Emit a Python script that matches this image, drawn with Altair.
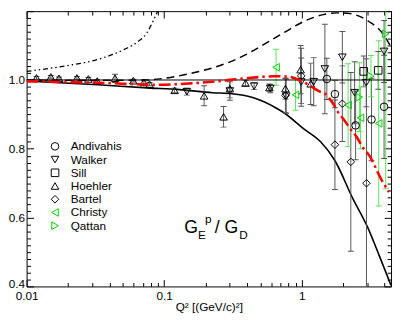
import altair as alt
import pandas as pd

# ---------------- data ----------------
series_names = ["Andivahis", "Walker", "Sill", "Hoehler", "Bartel", "Christy", "Qattan"]
series_shapes = ["circle", "triangle-down", "square", "triangle-up", "diamond", "triangle-left", "triangle-right"]
series_colors = ["black", "black", "black", "black", "black", "#00d000", "#00d000"]
bar_colors = ["#555555", "#555555", "#555555", "#555555", "#555555", "#5ce65c", "#5ce65c"]

andivahis_q = [1.52, 1.74, 2.46, 3.21, 3.96]
andivahis_v = [1.003, 0.959, 0.868, 0.885, 0.922]
andivahis_e = [0.06, 0.04, 0.10, 0.12, 0.15]

walker_q = [0.146, 0.300, 0.450, 0.590, 0.770, 0.990, 1.220, 1.470, 1.970, 2.420, 2.940, 3.960]
walker_v = [0.966, 0.968, 0.982, 0.975, 0.953, 0.994, 0.995, 1.032, 1.066, 0.963, 0.992, 1.083]
walker_e = [0.010, 0.027, 0.010, 0.012, 0.050, 0.070, 0.070, 0.130, 0.075, 0.090, 0.070, 0.090]

sill_q = [2.82, 3.59]
sill_v = [1.025, 1.028]
sill_e = [0.045, 0.055]

hoehler_q = [0.0118, 0.0150, 0.0172, 0.0232, 0.0281, 0.0326, 0.0439, 0.0596, 0.0711, 0.0783,
             0.119, 0.195, 0.270, 0.300, 0.390, 0.581, 0.760, 0.980, 1.160]
hoehler_v = [1.006, 1.009, 1.005, 1.006, 1.003, 0.997, 1.005, 0.998, 0.993, 0.988,
             0.970, 0.954, 0.893, 0.975, 0.991, 0.978, 0.975, 1.030, 0.989]
hoehler_e = [0.004, 0.004, 0.004, 0.004, 0.004, 0.004, 0.012, 0.004, 0.005, 0.005,
             0.006, 0.029, 0.030, 0.027, 0.008, 0.010, 0.030, 0.070, 0.060]

bartel_q = [0.76, 0.99, 1.74, 1.97, 2.27, 2.95]
bartel_v = [0.955, 1.012, 0.812, 0.931, 0.762, 0.700]
bartel_e = [0.05, 0.08, 0.13, 0.11, 0.26, 0.55]

christy_q = [0.65, 0.90, 2.17, 2.67, 3.62]
christy_v = [1.037, 0.957, 0.927, 0.890, 0.874]
christy_e = [0.052, 0.045, 0.12, 0.09, 0.24]

qattan_q = [2.62, 3.18, 4.07]
qattan_v = [0.950, 1.011, 1.134]
qattan_e = [0.10, 0.06, 0.45]

# curves
solid_q = [0.01, 0.0331, 0.0751, 0.1294, 0.224, 0.311, 0.433, 0.536, 0.66, 0.745, 1.033,
           1.365, 1.738, 2.344, 3.0, 3.64, 4.45]
solid_v = [0.997, 0.986, 0.977, 0.972, 0.963, 0.960, 0.950, 0.936, 0.917, 0.904, 0.858,
           0.821, 0.766, 0.656, 0.573, 0.491, 0.403]

dashed_q = [0.01, 0.03, 0.0751, 0.1041, 0.152, 0.224, 0.311, 0.433, 0.565, 0.745, 1.033,
            1.433, 1.78, 2.22, 3.07, 3.82, 4.45]
dashed_v = [1.0, 0.999, 1.0, 1.006, 1.018, 1.035, 1.055, 1.083, 1.110, 1.138, 1.170,
            1.190, 1.195, 1.193, 1.170, 1.138, 1.096]

dd_q = [0.01, 0.0192, 0.0331, 0.0513, 0.0637, 0.0751, 0.0837, 0.0899]
dd_v = [1.025, 1.041, 1.060, 1.089, 1.110, 1.138, 1.174, 1.201]

red_q = [0.01, 0.0331, 0.0929, 0.129, 0.225, 0.328, 0.511, 0.632, 0.782, 0.921, 1.121, 1.321,
         1.482, 1.69, 1.834, 1.991, 2.233, 2.545, 2.763, 3.097, 3.42, 3.71, 3.96, 4.30]
red_v = [0.996, 0.992, 0.986, 0.988, 0.995, 1.002, 1.009, 1.011, 1.010, 1.003, 0.986, 0.968,
         0.959, 0.931, 0.906, 0.888, 0.860, 0.830, 0.805, 0.780, 0.747, 0.717, 0.697, 0.674]

ref_value = [1.0]

# axis ticks / labels
x_label_values = [0.01, 0.1, 1]
x_minor_values = [0.02, 0.03, 0.04, 0.05, 0.06, 0.07, 0.08, 0.09,
                  0.2, 0.3, 0.4, 0.5, 0.6, 0.7, 0.8, 0.9, 2, 3, 4]
y_label_values = [0.4, 0.6, 0.8, 1.0]
y_major_values = [0.4, 0.6, 0.8, 1.0, 1.2]
y_minor_values = [round(0.4 + 0.02 * i, 2) for i in range(41) if i % 10 != 0]

x_title = "Q² [(GeV/c)²]"
formula_text = ["G", "E", "p", "/ G", "D"]

# ---------------- build tables ----------------
all_q = [andivahis_q, walker_q, sill_q, hoehler_q, bartel_q, christy_q, qattan_q]
all_v = [andivahis_v, walker_v, sill_v, hoehler_v, bartel_v, christy_v, qattan_v]
all_e = [andivahis_e, walker_e, sill_e, hoehler_e, bartel_e, christy_e, qattan_e]
rows = []
for name, qs, vs, es, bc in zip(series_names, all_q, all_v, all_e, bar_colors):
    for q, v, e in zip(qs, vs, es):
        rows.append({"series": name, "q": q, "v": v, "lo": v - e, "hi": v + e, "ecolor": bc})
pts = pd.DataFrame(rows)
caps = pd.concat([
    pts[["q", "lo", "ecolor"]].rename(columns={"lo": "c"}),
    pts[["q", "hi", "ecolor"]].rename(columns={"hi": "c"}),
])

FONT = "Liberation Sans"
W, H = 372, 281
MAJ, MIN = 7, 4

xs = alt.Scale(type="log", domain=[0.01, 4.45], nice=False)
ys = alt.Scale(domain=[0.4, 1.2], nice=False, zero=False)


def tick_axis(orient, offset, values, size):
    return alt.Axis(orient=orient, offset=offset, values=values, labels=False, domain=False,
                    grid=False, ticks=True, tickSize=size, tickColor="black", tickWidth=1,
                    title=None)


# layer 1: solid curve + labelled axes
solid = alt.Chart(pd.DataFrame({"q": solid_q, "v": solid_v})).mark_line(
    color="black", strokeWidth=1.6, interpolate="monotone", clip=True
).encode(
    x=alt.X("q:Q", scale=xs, axis=alt.Axis(
        orient="bottom", values=x_label_values, format="~g", tickSize=0, domain=False,
        grid=False, labelPadding=4, labelFlush=False, labelOverlap=False,
        labelFont=FONT, labelFontSize=12, labelColor="black",
        title=x_title, titleFont=FONT, titleFontSize=12, titleFontWeight="normal",
        titleColor="black", titlePadding=1)),
    y=alt.Y("v:Q", scale=ys, axis=alt.Axis(
        orient="left", values=y_label_values, format=".1f", tickSize=0, domain=False,
        grid=False, labelPadding=2, labelFlush=False, labelOverlap=False,
        labelOffset={"condition": {"test": "datum.value < 0.5", "value": -3}, "value": 0},
        labelFont=FONT, labelFontSize=12, labelColor="black", title=None)),
)

# layer 2: dashed curve + major inward ticks (bottom edge / left edge)
dashed = alt.Chart(pd.DataFrame({"q": dashed_q, "v": dashed_v})).mark_line(
    color="black", strokeWidth=1.5, strokeDash=[8, 5], interpolate="monotone", clip=True
).encode(
    x=alt.X("q:Q", scale=xs, axis=tick_axis("top", -H, x_label_values, MAJ)),
    y=alt.Y("v:Q", scale=ys, axis=tick_axis("right", -W, y_major_values, MAJ)),
)

# layer 3: dash-dot-dot curve + minor inward ticks (bottom edge / left edge)
dd = alt.Chart(pd.DataFrame({"q": dd_q, "v": dd_v})).mark_line(
    color="black", strokeWidth=1.3, strokeDash=[5, 3, 1.5, 3, 1.5, 3], interpolate="monotone",
    clip=True
).encode(
    x=alt.X("q:Q", scale=xs, axis=tick_axis("top", -H, x_minor_values, MIN)),
    y=alt.Y("v:Q", scale=ys, axis=tick_axis("right", -W, y_minor_values, MIN)),
)

# layer 4: red dash-dot curve + major inward ticks (top edge / right edge)
red = alt.Chart(pd.DataFrame({"q": red_q, "v": red_v})).mark_line(
    color="#ff0000", strokeWidth=2.6, strokeDash=[12, 4, 2.5, 4], interpolate="monotone",
    clip=True
).encode(
    x=alt.X("q:Q", scale=xs, axis=tick_axis("bottom", -H, x_label_values, MAJ)),
    y=alt.Y("v:Q", scale=ys, axis=tick_axis("left", -W, y_major_values, MAJ)),
)

# error bars + minor inward ticks (top edge / right edge)
bars = alt.Chart(pts).mark_rule(strokeWidth=1, clip=True).encode(
    x=alt.X("q:Q", scale=xs, axis=tick_axis("bottom", -H, x_minor_values, MIN)),
    y=alt.Y("lo:Q", scale=ys, axis=tick_axis("left", -W, y_minor_values, MIN)),
    y2="hi:Q",
    color=alt.Color("ecolor:N", scale=None),
)

capmarks = alt.Chart(caps).mark_tick(orient="horizontal", size=6, thickness=1, opacity=1,
                                     clip=True).encode(
    x=alt.X("q:Q", scale=xs, axis=None),
    y=alt.Y("c:Q", scale=ys, axis=None),
    color=alt.Color("ecolor:N", scale=None),
)

ref = alt.Chart(pd.DataFrame({"v": ref_value})).mark_rule(color="black", strokeWidth=1).encode(
    y=alt.Y("v:Q", scale=ys, axis=None),
)

leg = alt.Legend(title=None, orient="none", legendX=23, legendY=132, padding=0,
                 labelFont=FONT, labelFontSize=12, labelColor="black", symbolSize=60,
                 symbolStrokeWidth=1, rowPadding=1.5, labelOffset=10)

points = alt.Chart(pts).mark_point(filled=False, size=60, strokeWidth=1, opacity=1,
                                   clip=True).encode(
    x=alt.X("q:Q", scale=xs, axis=None),
    y=alt.Y("v:Q", scale=ys, axis=None),
    color=alt.Color("series:N", scale=alt.Scale(domain=series_names, range=series_colors),
                    legend=leg),
    shape=alt.Shape("series:N", scale=alt.Scale(domain=series_names, range=series_shapes),
                    legend=leg),
)

# formula annotation G_E^p / G_D
formula_x = [161, 175, 182, 192, 217]
formula_y = [226, 233, 216, 226, 233]
formula_size = [18, 12, 12, 18, 12]
texts = []
for t, px, py, fs in zip(formula_text, formula_x, formula_y, formula_size):
    texts.append(
        alt.Chart(pd.DataFrame({"t": [t]})).mark_text(
            align="left", baseline="alphabetic", font=FONT, fontSize=fs, color="black"
        ).encode(text="t:N", x=alt.value(px), y=alt.value(py))
    )

chart = alt.layer(solid, dashed, dd, bars, capmarks, points, ref, red, *texts).resolve_axis(
    x="independent", y="independent"
).properties(
    width=W, height=H,
    autosize=alt.AutoSizeParams(type="none"),
    padding={"left": 19, "top": 0, "right": 2, "bottom": 30},
).configure_view(
    stroke="black", strokeWidth=1
).configure_axis(grid=False)

chart.save("out.html", embed_options={"renderer": "svg", "actions": False})
